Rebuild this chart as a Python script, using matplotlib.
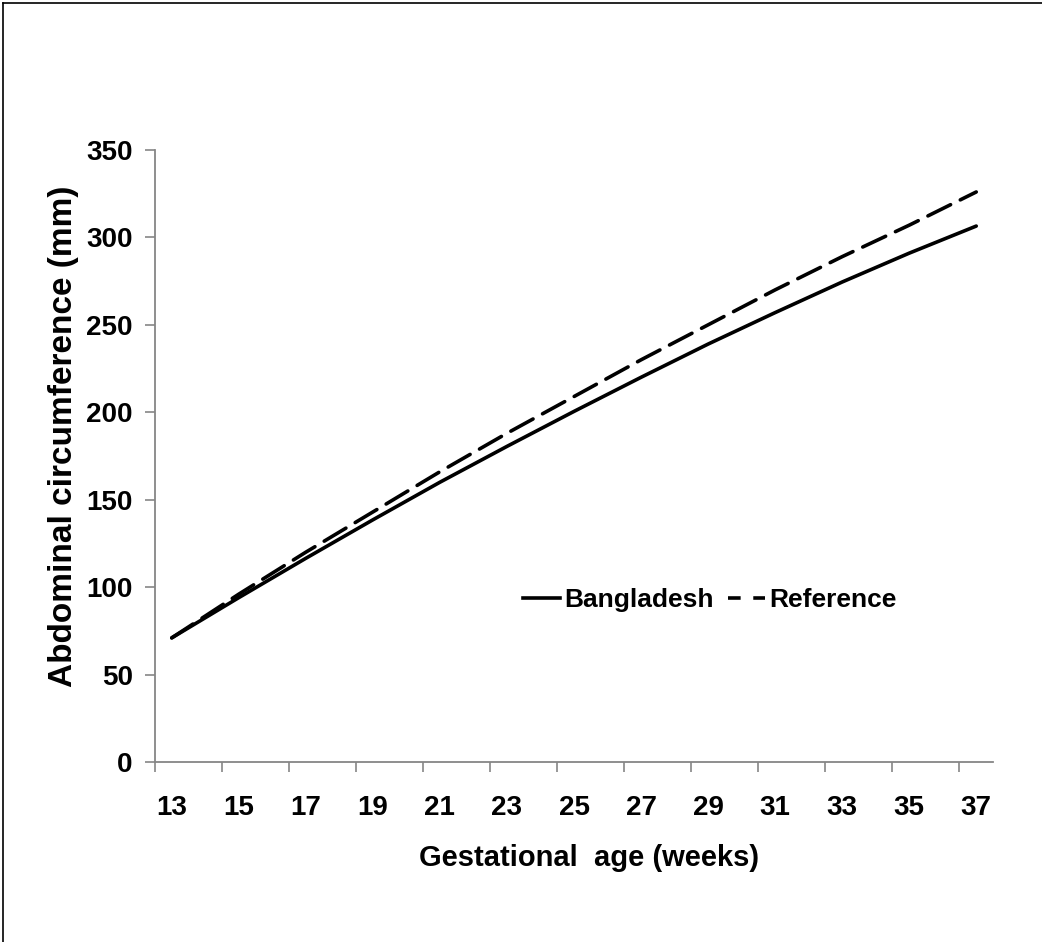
import numpy as np
import matplotlib.pyplot as plt
from matplotlib.lines import Line2D

# data (odd gestational weeks)
weeks = [13, 15, 17, 19, 21, 23, 25, 27, 29, 31, 33, 35, 37]
bangladesh = [71, 94, 116.5, 138.5, 160, 180.5, 200.5, 220, 239, 257, 274.5, 291, 306.5]
reference = [71, 96, 120, 143, 166, 188, 209, 230, 250, 270, 289, 307, 326]
yticks = [0, 50, 100, 150, 200, 250, 300, 350]

font = ['Liberation Sans', 'DejaVu Sans']
axis_grey = '#868686'

fig = plt.figure(figsize=(10.42, 9.42), dpi=100)
W, H = 1042, 942
ax = fig.add_axes([155 / W, 1 - 762 / H, (993 - 155) / W, (762 - 150) / H])

ax.plot(weeks, bangladesh, color='black', lw=2.6, solid_capstyle='round')
ax.plot(weeks, reference, color='black', lw=2.6, dashes=(7, 3), dash_capstyle='round')

ax.set_xlim(12.5, 37.5)
ax.set_ylim(0, 350)

# category style axis: tick marks on the boundaries, labels on the categories
ax.set_xticks(np.arange(12.5, 37.6, 2))
ax.set_xticklabels([])
ax.set_xticks(weeks, minor=True)
ax.set_xticklabels([str(w) for w in weeks], minor=True,
                   family=font, fontsize=20, fontweight='bold')
ax.tick_params(axis='x', which='major', length=7, width=1.2, color=axis_grey, direction='out')
ax.tick_params(axis='x', which='minor', length=0, pad=24)

ax.set_yticks(yticks)
ax.set_yticklabels([str(v) for v in yticks], family=font, fontsize=20, fontweight='bold')
ax.tick_params(axis='y', length=7, width=1.2, color=axis_grey, direction='out', pad=9)

for s in ['top', 'right']:
    ax.spines[s].set_visible(False)
for s in ['left', 'bottom']:
    ax.spines[s].set_color(axis_grey)
    ax.spines[s].set_linewidth(1.3)

ax.set_xlabel('Gestational  age (weeks)', family=font, fontsize=21, fontweight='bold')
ax.xaxis.set_label_coords((589 - 155) / 838, -(858 - 762) / 612)
ax.xaxis.label.set_va('center')
ax.set_ylabel('Abdominal circumference (mm)', family=font, fontsize=24, fontweight='bold')
ax.yaxis.set_label_coords((64 - 155) / 838, (762 - 436) / 612)
ax.yaxis.label.set_va('center')

handles = [Line2D([], [], color='black', lw=2.6),
           Line2D([], [], color='black', lw=2.6, dashes=(3.5, 3.5))]
ax.legend(handles, ['Bangladesh', 'Reference'], ncol=2, frameon=False,
          loc='center left', bbox_to_anchor=(523 / W, 1 - 600 / H),
          bbox_transform=fig.transFigure, borderpad=0, borderaxespad=0,
          handlelength=1.4, handletextpad=0.15, columnspacing=0.55,
          prop={'family': font, 'size': 19, 'weight': 'bold'})

# outer frame of the original picture (top and left edges only)
fig.add_artist(Line2D([3 / W, 1], [1 - 3 / H, 1 - 3 / H], color='black', lw=1.2))
fig.add_artist(Line2D([3 / W, 3 / W], [0, 1 - 3 / H], color='black', lw=1.2))

fig.savefig('out.png', dpi=100)
